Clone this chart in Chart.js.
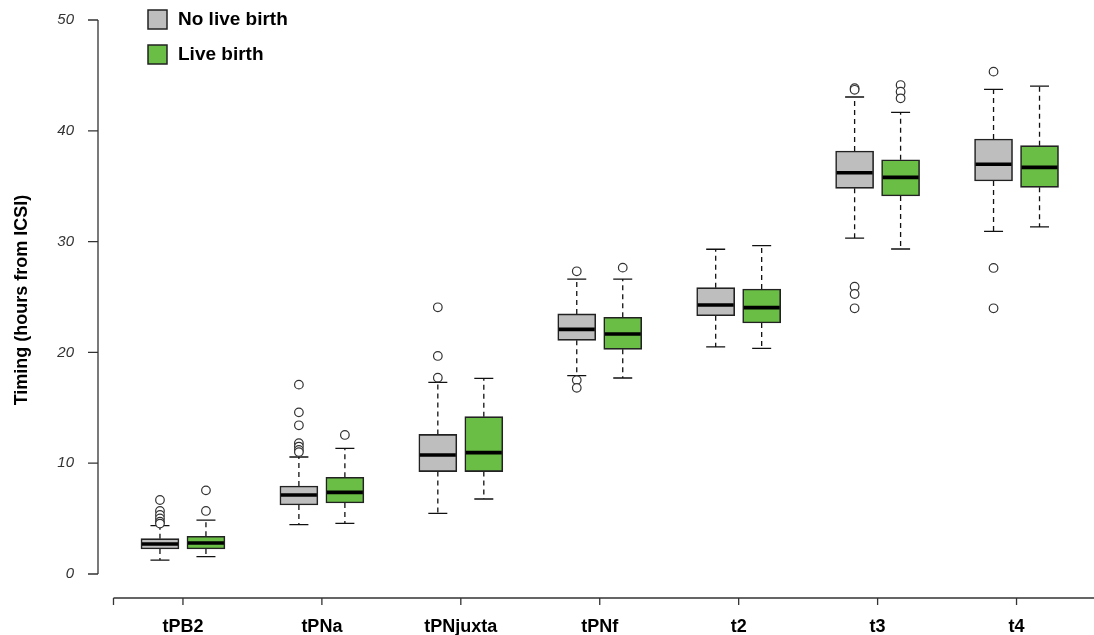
<!DOCTYPE html>
<html>
<head>
<meta charset="utf-8">
<script src="https://cdn.jsdelivr.net/npm/chart.js@4"></script>
<style>
  body { margin: 0; background: #fff; }
  #wrap { width: 1094px; height: 635px; }
</style>
</head>
<body>
<div id="wrap"><canvas id="chart" width="1094" height="635"></canvas></div>
<script>
// ---------- Data ----------
const categories = ["tPB2", "tPNa", "tPNjuxta", "tPNf", "t2", "t3", "t4"];
const yTicks = [0, 10, 20, 30, 40, 50];

// No live birth
const noLiveLow    = [1.26, 4.45, 5.48, 17.9, 20.49, 30.32, 30.93];
const noLiveQ1     = [2.26, 6.23, 9.24, 21.09, 23.31, 34.81, 35.47];
const noLiveMedian = [2.71, 7.13, 10.74, 22.08, 24.28, 36.22, 36.98];
const noLiveQ3     = [3.19, 7.94, 12.6, 23.47, 25.84, 38.18, 39.26];
const noLiveHigh   = [4.36, 10.56, 17.3, 26.62, 29.31, 43.05, 43.74];
const noLiveOutliers = [
  [6.68, 5.69, 5.33, 5.02, 4.72, 4.55],
  [17.09, 14.59, 13.42, 11.8, 11.5, 11.2, 11.0],
  [24.07, 19.68, 17.72],
  [27.32, 17.5, 16.8],
  [],
  [43.85, 43.7, 25.93, 25.27, 23.98],
  [45.34, 27.62, 23.98]
];

// Live birth
const liveLow    = [1.56, 4.57, 6.77, 17.69, 20.37, 29.33, 31.32];
const liveQ1     = [2.26, 6.41, 9.24, 20.28, 22.65, 34.12, 34.9];
const liveMedian = [2.8, 7.37, 10.95, 21.66, 24.04, 35.8, 36.7];
const liveQ3     = [3.4, 8.73, 14.2, 23.17, 25.72, 37.39, 38.66];
const liveHigh   = [4.87, 11.34, 17.66, 26.62, 29.63, 41.67, 44.04];
const liveOutliers = [
  [5.69, 7.55],
  [12.55],
  [],
  [27.65],
  [],
  [44.13, 43.53, 42.93],
  []
];

// ---------- Style ----------
const GRAY = "#bebebe";
const GREEN = "#6abd45";
const EDGE = "#222";
const BOX_W = 38;
const OFFSET = 0.1655; // half distance between the two boxes of a group, in x units
const FONT = "'Liberation Sans', Arial, sans-serif";

const groups = [
  { label: "No live birth", color: GRAY, shift: -OFFSET,
    low: noLiveLow, q1: noLiveQ1, med: noLiveMedian, q3: noLiveQ3, high: noLiveHigh, out: noLiveOutliers },
  { label: "Live birth", color: GREEN, shift: OFFSET,
    low: liveLow, q1: liveQ1, med: liveMedian, q3: liveQ3, high: liveHigh, out: liveOutliers }
];

function boxDataset(g) {
  return {
    type: "bar",
    label: g.label,
    data: categories.map((c, i) => ({ x: i + 1 + g.shift, y: [g.q1[i], g.q3[i]] })),
    backgroundColor: g.color,
    borderColor: EDGE,
    borderWidth: 1.6,
    borderSkipped: false,
    barThickness: BOX_W,
    grouped: false,
    order: 2
  };
}

function outlierDataset(g) {
  const pts = [];
  g.out.forEach((list, i) => list.forEach(v => pts.push({ x: i + 1 + g.shift, y: v })));
  return {
    type: "scatter",
    label: g.label + " outliers",
    data: pts,
    pointRadius: 4.3,
    pointBackgroundColor: "#fff",
    pointBorderColor: "#333",
    pointBorderWidth: 1.2,
    order: 1
  };
}

// ---------- Whiskers, medians, axes, legend ----------
const boxPlotExtras = {
  id: "boxPlotExtras",
  beforeDatasetsDraw(chart) {
    const { ctx, scales: { x, y } } = chart;
    ctx.save();
    ctx.strokeStyle = "#111";
    ctx.lineWidth = 1.3;
    groups.forEach(g => {
      categories.forEach((c, i) => {
        const cx = x.getPixelForValue(i + 1 + g.shift);
        // dashed whiskers
        ctx.setLineDash([5, 4]);
        ctx.beginPath();
        ctx.moveTo(cx, y.getPixelForValue(g.q3[i]));
        ctx.lineTo(cx, y.getPixelForValue(g.high[i]));
        ctx.moveTo(cx, y.getPixelForValue(g.q1[i]));
        ctx.lineTo(cx, y.getPixelForValue(g.low[i]));
        ctx.stroke();
        // caps
        ctx.setLineDash([]);
        ctx.beginPath();
        [g.high[i], g.low[i]].forEach(v => {
          const py = y.getPixelForValue(v);
          ctx.moveTo(cx - BOX_W / 4, py);
          ctx.lineTo(cx + BOX_W / 4, py);
        });
        ctx.stroke();
      });
    });
    ctx.restore();
  },
  afterDatasetsDraw(chart) {
    const { ctx, scales: { x, y } } = chart;
    ctx.save();
    ctx.strokeStyle = "#000";
    ctx.lineWidth = 3.6;
    groups.forEach(g => {
      categories.forEach((c, i) => {
        const cx = x.getPixelForValue(i + 1 + g.shift);
        const py = y.getPixelForValue(g.med[i]);
        ctx.beginPath();
        ctx.moveTo(cx - BOX_W / 2 + 1, py);
        ctx.lineTo(cx + BOX_W / 2 - 1, py);
        ctx.stroke();
      });
    });
    ctx.restore();
  },
  afterDraw(chart) {
    const { ctx, chartArea, scales: { x, y } } = chart;
    ctx.save();
    ctx.strokeStyle = "#333";
    ctx.lineWidth = 1.3;

    // y axis (detached, spans the ticks only)
    const ax = chartArea.left;
    ctx.beginPath();
    ctx.moveTo(ax, y.getPixelForValue(yTicks[0]));
    ctx.lineTo(ax, y.getPixelForValue(yTicks[yTicks.length - 1]));
    yTicks.forEach(t => {
      const py = y.getPixelForValue(t);
      ctx.moveTo(ax - 10, py);
      ctx.lineTo(ax, py);
    });
    ctx.stroke();

    // x axis, runs off the right edge
    const ay = chartArea.bottom;
    ctx.beginPath();
    ctx.moveTo(x.getPixelForValue(0.5), ay);
    ctx.lineTo(chart.width, ay);
    [0.5].concat(categories.map((c, i) => i + 1)).forEach(v => {
      const px = x.getPixelForValue(v);
      ctx.moveTo(px, ay);
      ctx.lineTo(px, ay + 7);
    });
    ctx.stroke();

    // y axis title
    ctx.fillStyle = "#000";
    ctx.font = "bold 18px " + FONT;
    ctx.textAlign = "center";
    ctx.textBaseline = "middle";
    ctx.translate(22, 300);
    ctx.rotate(-Math.PI / 2);
    ctx.fillText("Timing (hours from ICSI)", 0, 0);
    ctx.restore();

    // legend
    ctx.save();
    ctx.font = "bold 19px " + FONT;
    ctx.textAlign = "left";
    ctx.textBaseline = "middle";
    groups.forEach((g, k) => {
      const top = 10 + k * 35;
      ctx.fillStyle = g.color;
      ctx.fillRect(148, top, 19, 19);
      ctx.strokeStyle = EDGE;
      ctx.lineWidth = 1.5;
      ctx.strokeRect(148, top, 19, 19);
      ctx.fillStyle = "#000";
      ctx.fillText(g.label, 178, top + 10);
    });
    ctx.restore();
  }
};

// ---------- Chart ----------
new Chart(document.getElementById("chart").getContext("2d"), {
  type: "bar",
  data: {
    datasets: groups.map(boxDataset).concat(groups.map(outlierDataset))
  },
  options: {
    responsive: false,
    animation: false,
    devicePixelRatio: 1,
    layout: { padding: { top: 20, right: 0, bottom: 0, left: 0 } },
    plugins: { legend: { display: false }, tooltip: { enabled: false } },
    scales: {
      x: {
        type: "linear",
        offset: false,
        min: 0.3885,
        max: 7.518,
        grid: { display: false, offset: false },
        border: { display: false },
        afterBuildTicks: s => { s.ticks = categories.map((c, i) => ({ value: i + 1 })); },
        afterFit: s => { s.height = 37; s.paddingLeft = 0; s.paddingRight = 0; },
        ticks: {
          padding: 10,
          color: "#000",
          font: { family: FONT, size: 18, weight: "bold" },
          callback: v => categories[v - 1]
        }
      },
      y: {
        min: -2.166,
        max: 50,
        grid: { display: false },
        border: { display: false },
        afterBuildTicks: s => { s.ticks = yTicks.map(v => ({ value: v })); },
        afterFit: s => { s.width = 98; s.paddingTop = 0; s.paddingBottom = 0; },
        ticks: {
          padding: 16,
          color: "#333",
          font: { family: FONT, size: 15, style: "italic" }
        }
      }
    }
  },
  plugins: [boxPlotExtras]
});
</script>
</body>
</html>
